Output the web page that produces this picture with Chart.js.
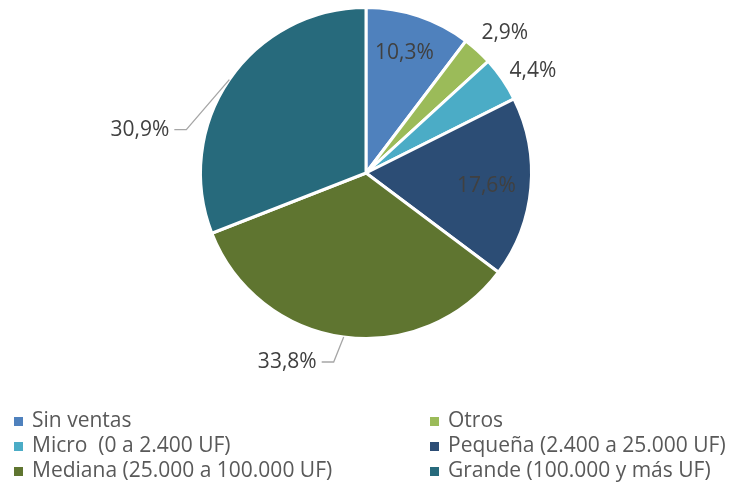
<!DOCTYPE html>
<html>
<head>
<meta charset="utf-8">
<script src="https://cdn.jsdelivr.net/npm/chart.js@4"></script>
<style>
  body { margin: 0; background: #fff; }
  #wrap { width: 730px; height: 490px; }
</style>
</head>
<body>
<div id="wrap"><canvas id="myChart" width="730" height="490"></canvas></div>
<script>
var categories = ['Sin ventas', 'Otros', 'Micro  (0 a 2.400 UF)', 'Pequeña (2.400 a 25.000 UF)', 'Mediana (25.000 a 100.000 UF)', 'Grande (100.000 y más UF)'];
var shares = [10.3, 2.9, 4.4, 17.6, 33.8, 30.9];
var colors = ['#4F81BD', '#9BBB59', '#4BACC6', '#2C4D75', '#5F7530', '#276A7C'];

// how each value label is placed: inside / outside / with leader line
// (a = extra angle in degrees, r = distance as share of the radius)
var labelMode = [
  {type: 'in', r: 0.77, a: -1},
  {type: 'out', r: 1.2, a: 2},
  {type: 'out', r: 1.19, a: 2.5},
  {type: 'in', r: 0.73, a: 0},
  {type: 'leader', dx: -10, dy: 25, len: 12},
  {type: 'leader', dx: -43, dy: 50, len: 12}
];

var fmt = v => v.toFixed(1).replace('.', ',') + '%';
var FONT = '21px "Open Sans", sans-serif';

var labelPlugin = {
  id: 'pieLabels',
  afterDatasetsDraw(chart) {
    var ctx = chart.ctx;
    var meta = chart.getDatasetMeta(0);
    ctx.save();
    ctx.font = FONT;
    ctx.fillStyle = '#404040';
    meta.data.forEach((arc, i) => {
      var p = arc.getProps(['x', 'y', 'startAngle', 'endAngle', 'outerRadius'], true);
      var mid = (p.startAngle + p.endAngle) / 2;
      var R = p.outerRadius;
      var m = labelMode[i];
      var txt = fmt(shares[i]);
      if (m.type === 'leader') {
        var ex = p.x + Math.cos(mid) * R, ey = p.y + Math.sin(mid) * R;
        var bx = ex + m.dx, by = ey + m.dy;
        ctx.strokeStyle = '#A6A6A6';
        ctx.lineWidth = 1.3;
        ctx.beginPath();
        ctx.moveTo(ex, ey);
        ctx.lineTo(bx, by);
        ctx.lineTo(bx - m.len, by);
        ctx.stroke();
        ctx.textAlign = 'right';
        ctx.textBaseline = 'middle';
        ctx.fillText(txt, bx - m.len - 5, by);
      } else {
        var ang = mid + m.a * Math.PI / 180;
        ctx.textAlign = 'center';
        ctx.textBaseline = 'middle';
        ctx.fillText(txt, p.x + Math.cos(ang) * R * m.r, p.y + Math.sin(ang) * R * m.r + 2);
      }
    });
    ctx.restore();
  }
};

// two-column legend under the pie
var legendPlugin = {
  id: 'twoColLegend',
  afterDraw(chart) {
    var ctx = chart.ctx;
    ctx.save();
    ctx.font = FONT;
    ctx.textBaseline = 'middle';
    ctx.textAlign = 'left';
    var colX = [14, 430];
    var rowY = [421, 446, 471];
    categories.forEach((c, i) => {
      var x = colX[i % 2], y = rowY[Math.floor(i / 2)];
      ctx.fillStyle = colors[i];
      ctx.fillRect(x, y - 4, 9, 9);
      ctx.fillStyle = '#595959';
      ctx.fillText(c, x + 18, y);
    });
    ctx.restore();
  }
};

new Chart('myChart', {
  type: 'pie',
  data: {
    labels: categories,
    datasets: [{
      data: shares,
      backgroundColor: colors,
      borderColor: '#ffffff',
      borderWidth: 3
    }]
  },
  options: {
    responsive: false,
    animation: false,
    layout: { padding: { top: 6, bottom: 150, left: 2, right: 0 } },
    plugins: {
      legend: { display: false },
      tooltip: { enabled: false }
    }
  },
  plugins: [labelPlugin, legendPlugin]
});
</script>
</body>
</html>
